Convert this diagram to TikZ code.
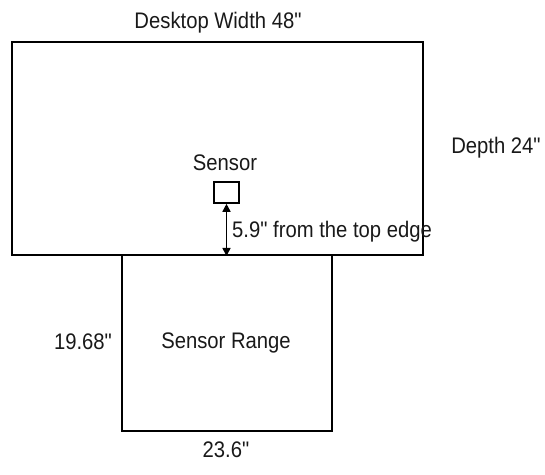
\documentclass[tikz,border=0pt]{standalone}
\usepackage{fontspec}
\setmainfont{Liberation Sans}[FakeStretch=0.9, Ligatures=TeXOff]
\usetikzlibrary{arrows.meta}
\begin{document}
\begin{tikzpicture}[x=1pt,y=1pt,
  box/.style={draw=black, line width=2pt, inner sep=0pt, minimum width=#1},
  lbl/.style={font=\fontsize{22.5}{26}\selectfont, text=black!90, inner sep=0pt},
  dim/.style={{Triangle[length=8pt,width=8pt]}-{Triangle[length=8pt,width=8pt]}, line width=1.6pt}]
\useasboundingbox (0,0) rectangle (545,474);
\node[box=411pt, minimum height=213pt] (desk) at (217.5,325.5) {};
\node[box=210pt, minimum height=176pt] (range) at (227,131) {};
\node[box=25pt, minimum height=21pt, line width=1.6pt] (sensor) at (226.5,281.5) {};
\draw[dim] (sensor.south) -- (sensor.south |- desk.south);
\node[lbl] (tw) at (218,451) {Desktop Width 48"};
\node[lbl] (dp) at (496,326) {Depth 24"};
\node[lbl] (sl) at (225,311) {Sensor};
\node[lbl, anchor=west] (dist) at (232,242) {5.9" from the top edge};
\node[lbl] (rh) at (83,132) {19.68"};
\node[lbl] (rl) at (226,131) {Sensor Range};
\node[lbl] (rw) at (226,24) {23.6"};
\end{tikzpicture}
\end{document}
